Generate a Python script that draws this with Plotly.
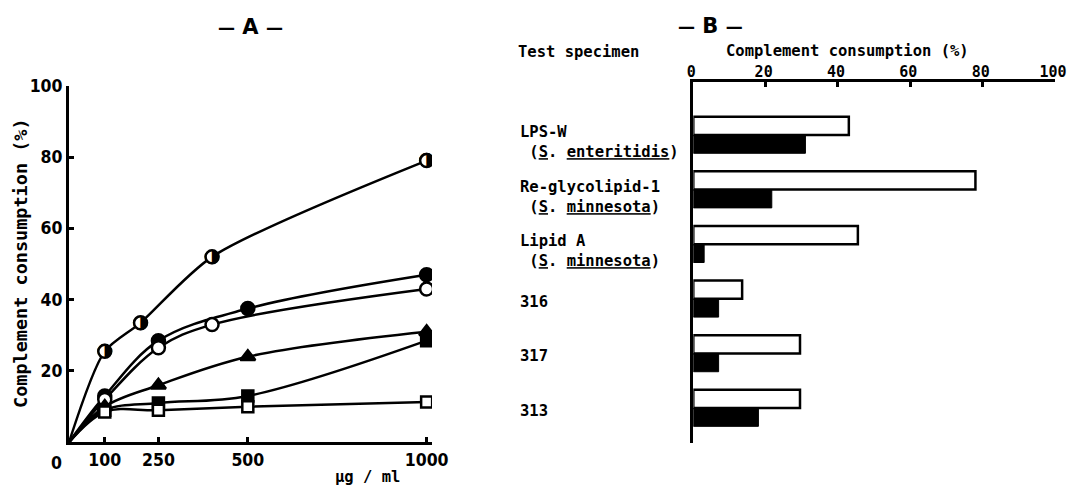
import plotly.graph_objects as go

# ---------------- data: panel A ----------------
dose_half = [0, 100, 200, 400, 1000]
cons_half = [0, 25.5, 33.5, 52, 79]        # half-filled circles

dose_fcirc = [0, 100, 250, 500, 1000]
cons_fcirc = [0, 13, 28.5, 37.5, 47]        # filled circles

dose_ocirc = [0, 100, 250, 400, 1000]
cons_ocirc = [0, 12, 26.5, 33, 43]          # open circles

dose_tri = [0, 100, 250, 500, 1000]
cons_tri = [0, 10, 16, 24, 31]              # filled triangles

dose_fsq = [0, 100, 250, 500, 1000]
cons_fsq = [0, 9, 11, 13, 28.5]             # filled squares

dose_osq = [0, 100, 250, 500, 1000]
cons_osq = [0, 8.5, 9, 10, 11.3]            # open squares

a_xticks = [100, 250, 500, 1000]
a_yticks = [20, 40, 60, 80, 100]

# ---------------- data: panel B ----------------
specimens = [
    "LPS-W<br>\u00a0(<u>S</u>. <u>enteritidis</u>)",
    "Re-glycolipid-1<br>\u00a0(<u>S</u>. <u>minnesota</u>)",
    "Lipid A<br>\u00a0(<u>S</u>. <u>minnesota</u>)",
    "316",
    "317",
    "313",
]
b_white = [43, 78, 45.5, 13.5, 29.5, 29.5]
b_black = [31, 21.7, 3, 7, 7, 18]
b_xticks = [0, 20, 40, 60, 80, 100]

MONO = "DejaVu Sans Mono"
NARROW = "DejaVu Sans Condensed"
W, H = 1067, 488


def px(x):
    return x / W


def py(y):
    return 1 - y / H


fig = go.Figure()


def lstyle(smooth=1.0):
    return dict(color="black", width=2.5, shape="spline", smoothing=smooth)


# half-filled circle series: line + open circle + right-half-black glyph
fig.add_trace(go.Scatter(x=dose_half, y=cons_half, mode="lines", line=lstyle(0.75),
                         xaxis="x", yaxis="y", showlegend=False, hoverinfo="skip"))
fig.add_trace(go.Scatter(x=dose_half[1:], y=cons_half[1:], mode="markers",
                         marker=dict(symbol="circle", size=13, color="white",
                                     line=dict(color="black", width=2.5)),
                         xaxis="x", yaxis="y", showlegend=False))
fig.add_trace(go.Scatter(x=dose_half[1:], y=cons_half[1:], mode="text",
                         text=["\u25d1"] * (len(dose_half) - 1),
                         textfont=dict(family="DejaVu Sans", size=19, color="black"),
                         textposition="middle center", xaxis="x", yaxis="y", showlegend=False))


def series(xs, ys, symbol, size, fill):
    fig.add_trace(go.Scatter(
        x=xs, y=ys, mode="lines", line=lstyle(1.0), xaxis="x", yaxis="y", showlegend=False))
    fig.add_trace(go.Scatter(
        x=xs[1:], y=ys[1:], mode="markers",
        marker=dict(symbol=symbol, size=size, color=fill, line=dict(color="black", width=2.5)),
        xaxis="x", yaxis="y", showlegend=False))


series(dose_fcirc, cons_fcirc, "circle", 13, "black")
series(dose_ocirc, cons_ocirc, "circle", 13, "white")
series(dose_tri, cons_tri, "triangle-up", 13, "black")
series(dose_fsq, cons_fsq, "square", 11, "black")
series(dose_osq, cons_osq, "square", 11, "white")

# panel B bars
idx = list(range(len(specimens)))
fig.add_trace(go.Bar(y=idx, x=b_white, orientation="h", xaxis="x2", yaxis="y2",
                     marker=dict(color="white", line=dict(color="black", width=2.5)),
                     showlegend=False))
fig.add_trace(go.Bar(y=idx, x=b_black, orientation="h", xaxis="x2", yaxis="y2",
                     marker=dict(color="black", line=dict(color="black", width=1)),
                     showlegend=False))

axis_common = dict(showline=True, linecolor="black", linewidth=3, showgrid=False, automargin=False,
                   zeroline=False, ticks="inside", ticklen=5, tickwidth=2.5, tickcolor="black",
                   ticklabeloverflow="allow")

annotations = []
txt = dict(color="black")


def note(x, y, text, font, **kw):
    d = dict(xref="paper", yref="paper", x=px(x), y=py(y), xanchor="center", yanchor="middle",
             showarrow=False, text=text, font=font)
    d.update(kw)
    annotations.append(d)


dash = "<span style='font-size:17px'>\u2014</span>"
note(250, 27, f"{dash} A {dash}", dict(family="DejaVu Sans", size=21, weight="bold", **txt))
note(710, 26, f"{dash} B {dash}", dict(family="DejaVu Sans", size=21, weight="bold", **txt))
note(578, 52, "Test specimen", dict(family=MONO, size=15.5, weight="bold", **txt))
note(847, 51, "Complement consumption (%)", dict(family=MONO, size=15.5, weight="bold", **txt))
note(367, 477, "\u00b5g / ml", dict(family=MONO, size=15.5, weight="bold", **txt))
note(56, 463, "0", dict(family=NARROW, size=17.5, weight="bold", **txt))
note(20, 263, "Complement consumption (%)", dict(family=MONO, size=18.5, weight="bold", **txt), textangle=-90)

for i, lab in enumerate(specimens):
    two = "<br>" in lab
    annotations.append(dict(xref="paper", yref="y2", x=px(518), y=i, xanchor="left", yanchor="middle",
                            align="left", yshift=-7 if two else -3, showarrow=False, text=lab,
                            font=dict(family=MONO, size=15.5, weight="bold", **txt)))

fig.update_layout(
    width=W, height=H, margin=dict(l=0, r=0, t=0, b=0, autoexpand=False),
    paper_bgcolor="white", plot_bgcolor="white",
    barmode="group", bargap=0.33, bargroupgap=0,
    xaxis=dict(domain=[px(69), px(432)], range=[0, 1015], tickvals=a_xticks, anchor="y",
               tickfont=dict(family=NARROW, size=17.5, weight="bold", color="black"), **axis_common),
    yaxis=dict(domain=[py(442.3), py(85.7)], range=[0, 100], tickvals=a_yticks, anchor="x",
               tickfont=dict(family=NARROW, size=17.5, weight="bold", color="black"), **axis_common),
    xaxis2=dict(domain=[px(693.3), px(1055)], range=[0, 100], tickvals=b_xticks, side="top", anchor="y2",
                ticklabelstandoff=-4, ticklabelshift=-2,
                tickfont=dict(family=MONO, size=15, weight="bold", color="black"), **axis_common),
    yaxis2=dict(domain=[py(443), py(82)], range=[5.64, -0.97], anchor="x2", showline=True,
                linecolor="black", linewidth=3, showgrid=False, zeroline=False, automargin=False,
                showticklabels=False, ticks=""),
    annotations=annotations,
)

fig.write_html(
    "out.html",
    config={"displayModeBar": False},
    post_script="document.body.style.margin='0';document.documentElement.style.overflow='hidden';",
)
